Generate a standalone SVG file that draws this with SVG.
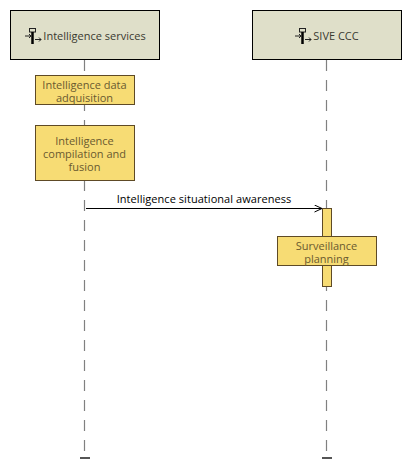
<svg xmlns="http://www.w3.org/2000/svg" width="412" height="475" viewBox="0 0 412 475">
<style>
text{font-family:"Open Sans","Noto Sans",sans-serif;font-size:11px;text-anchor:middle}
.h{fill:#dfdfc9;stroke:#000;stroke-width:1}
.b{fill:#f7dc74;stroke:#5e4a26;stroke-width:1}
.t{fill:#6a5a30}
.n{fill:#3a3a30}
.l{stroke:#808080;stroke-width:1.200;stroke-dasharray:11 9;fill:none}
.e{stroke:#555;stroke-width:2;fill:none}
.i{fill:none;stroke:#222;stroke-width:1}
</style>
<defs>
<marker id="a" markerWidth="9" markerHeight="8" refX="8" refY="4" orient="auto" markerUnits="userSpaceOnUse"><path d="M0.5 0.5L8 4L0.5 7.5" fill="none" stroke="#000"/></marker>
<g id="ic"><rect x="4.500" y="0.500" width="6" height="3.500" class="i"/><path d="M7.500 4V16" stroke="#000" stroke-width="2.500"/><path d="M0 8H6M4 6L6 8L4 10M10 11.500H16M14 9.500L16 11.500L14 13.500" class="i"/></g>
</defs>
<g id="connectors">
<path class="l" d="M84.500 60V452"/>
<path class="l" d="M326.500 60V452"/>
<path class="e" d="M80 458H90M322 458H332"/>
<path d="M86 208.500H322" stroke="#000" fill="none" marker-end="url(#a)"/>
<text x="204" y="203" fill="#000" letter-spacing="0.050">Intelligence situational awareness</text>
</g>
<g id="node-intel"><rect class="h" x="10.500" y="10.500" width="149" height="49"/><use href="#ic" x="25" y="28"/><text class="n" x="94.500" y="40">Intelligence services</text></g>
<g id="node-sive"><rect class="h" x="252.500" y="10.500" width="149" height="49"/><use href="#ic" x="295" y="28"/><text class="n" x="336" y="40">SIVE CCC</text></g>
<g id="node-acq"><rect class="b" x="35.500" y="75.500" width="99" height="29"/><text class="t"><tspan x="84.500" y="89">Intelligence data</tspan><tspan x="84.500" y="102">adquisition</tspan></text></g>
<g id="node-fusion"><rect class="b" x="35.500" y="125.500" width="99" height="55"/><text class="t"><tspan x="84.500" y="145">Intelligence</tspan><tspan x="84.500" y="158">compilation and</tspan><tspan x="84.500" y="171">fusion</tspan></text></g>
<g id="node-activation"><rect class="b" x="322.500" y="208.500" width="9" height="78"/></g>
<g id="node-plan"><rect class="b" x="277.500" y="236.500" width="99" height="29"/><text class="t"><tspan x="326.500" y="250">Surveillance</tspan><tspan x="326.500" y="263">planning</tspan></text></g>
</svg>
